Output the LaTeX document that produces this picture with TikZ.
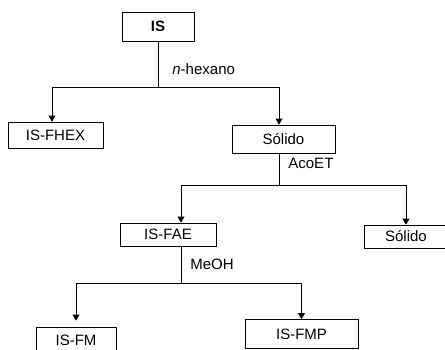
\documentclass[tikz,border=0pt]{standalone}
\usepackage{fontspec}
\setmainfont{Liberation Sans}
\usetikzlibrary{arrows.meta,positioning}

\begin{document}
\begin{tikzpicture}[x=1pt,y=-1pt,line width=0.8pt,
    caixa/.style={draw,inner sep=0pt,font=\fontsize{15}{18}\selectfont},
    seta/.style={-{Triangle[length=6pt,width=7pt]}},
    rotulo/.style={anchor=west,inner sep=0pt,font=\fontsize{15}{18}\selectfont}]
                    \useasboundingbox (0,0) rectangle (445,349);

                    \node[caixa,minimum width=72pt,minimum height=29pt,font=\fontsize{15}{18}\selectfont\bfseries] (is) at (158,26.5) {IS};
                    \node[caixa,minimum width=95pt,minimum height=26pt] (fhex) at (55.5,135) {IS-FHEX};
                    \node[caixa,minimum width=103pt,minimum height=28pt] (sol1) at (283.5,139) {Sólido};
                    \node[caixa,minimum width=96pt,minimum height=23pt] (fae) at (168,234.5) {IS-FAE};
                    \node[caixa,minimum width=84pt,minimum height=23pt] (sol2) at (406,236.5) {Sólido};
                    \node[caixa,minimum width=80pt,minimum height=26pt] (fm) at (76,340) {IS-FM};
                    \node[caixa,minimum width=113pt,minimum height=29pt] (fmp) at (301.5,334) {IS-FMP};

                    \coordinate (j1) at (158,87);
                    \coordinate (j2) at (279,185);
                    \coordinate (j3) at (181,283);

                    \node[rotulo] (hex) at (172,69) {\textit{n}-hexano};
                    \node[rotulo] (aco) at (288,163) {AcoET};
                    \node[rotulo] (meoh) at (190,264) {MeOH};

                    \draw (is.south) -- (j1);
                    \draw[seta] (j1) -| ([xshift=-3.5pt]fhex.north);
                    \draw[seta] (j1) -| (sol1.north -| j2);

                    \draw (sol1.south -| j2) -- (j2);
                    \draw[seta] (j2) -| (fae.north -| j3);
                    \draw[seta] (j2) -| (sol2.north);

                    \draw (fae.south -| j3) -- (j3);
                    \draw[seta] (j3) -| ([yshift=6pt]fm.north);
                    \draw[seta] (j3) -| (fmp.north);
                \end{tikzpicture}
\end{document}
